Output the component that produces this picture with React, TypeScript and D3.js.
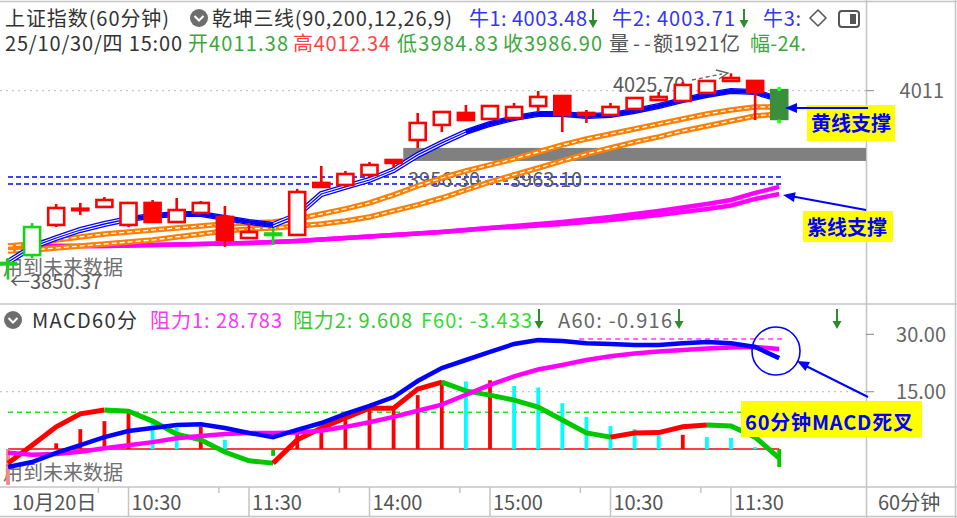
import React from "react";
import * as d3 from "d3";

// ---------- data ----------
const openP = [3864.5, 3871.2, 3896.8, 3909.5, 3912.1, 3896.8, 3915.5, 3899.3, 3907.0, 3903.6, 3885.7, 3889.5, 3888.3, 3932.5, 3930.8, 3939.3, 3952.0, 3969.0, 3981.8, 3992.0, 3986.9, 3987.7, 3997.9, 4006.4, 3990.3, 3990.3, 3995.4, 4003.0, 4002.2, 4009.0, 4019.2, 4019.2, 4011.38];
const highP = [3868.7, 3898.4, 3914.6, 3915.5, 3920.5, 3916.3, 3918.0, 3919.7, 3917.2, 3912.9, 3898.5, 3894.2, 3927.4, 3946.9, 3942.7, 3950.3, 3952.0, 3992.0, 3992.8, 3998.8, 3997.9, 4000.5, 4010.7, 4006.4, 3994.5, 4000.5, 4004.7, 4009.8, 4018.3, 4019.2, 4025.7, 4019.2, 4012.34];
const lowP = [3850.37, 3868.7, 3895.0, 3905.3, 3912.1, 3895.0, 3898.5, 3899.3, 3907.0, 3878.1, 3885.7, 3879.8, 3888.3, 3929.1, 3929.1, 3937.6, 3945.2, 3962.2, 3975.8, 3986.0, 3986.9, 3987.7, 3992.8, 3975.8, 3983.5, 3990.3, 3995.4, 4003.0, 4002.2, 4009.0, 4019.2, 3986.0, 3984.83];
const closeP = [3863.6, 3895.0, 3911.2, 3910.6, 3918.0, 3915.5, 3899.3, 3909.5, 3915.5, 3884.0, 3890.8, 3889.0, 3924.8, 3929.1, 3940.1, 3947.8, 3949.5, 3983.5, 3992.8, 3986.0, 3997.9, 3997.1, 4005.6, 3990.3, 3992.0, 3997.1, 4004.7, 4005.6, 4015.8, 4019.2, 4021.7, 4009.8, 3986.9];
const candleTone = ["g", "g", "r", "r", "r", "r", "r", "r", "r", "r", "r", "g", "r", "r", "r", "r", "r", "r", "r", "r", "r", "r", "r", "r", "r", "r", "r", "r", "r", "r", "r", "r", "d"];

// 乾坤三线 lines
const bullLine = [3865.3, 3878.1, 3885.7, 3892.5, 3897.6, 3901.9, 3904.4, 3906.1, 3906.1, 3902.7, 3899.3, 3896.8, 3905.3, 3923.1, 3929.1, 3935.0, 3943.5, 3956.3, 3966.5, 3975.8, 3982.6, 3987.7, 3991.1, 3991.1, 3989.4, 3990.3, 3993.7, 3997.9, 4003.0, 4007.3, 4010.7, 4009.8, 4003.5];
const yellowFast = [3878.9, 3880.6, 3884.0, 3886.6, 3889.1, 3890.8, 3892.5, 3894.2, 3895.9, 3897.6, 3898.5, 3899.3, 3901.9, 3906.1, 3910.4, 3915.5, 3922.3, 3929.9, 3936.7, 3942.7, 3947.8, 3952.9, 3958.8, 3964.8, 3969.9, 3974.1, 3978.4, 3982.6, 3986.9, 3991.1, 3994.5, 3997.1, 3997.1];
const yellowSlow = [3874.7, 3875.5, 3877.2, 3878.9, 3880.6, 3882.3, 3884.0, 3886.6, 3889.1, 3891.7, 3893.4, 3894.2, 3895.9, 3897.6, 3900.2, 3903.6, 3908.7, 3913.8, 3919.7, 3926.5, 3933.3, 3939.3, 3945.2, 3951.2, 3957.1, 3962.2, 3967.3, 3971.6, 3976.7, 3980.9, 3985.2, 3989.4, 3991.1];
const purpleUpper = [3878.9, 3878.9, 3878.9, 3878.9, 3878.9, 3879.3, 3879.8, 3880.2, 3880.6, 3881.0, 3881.5, 3882.3, 3883.2, 3884.5, 3885.7, 3887.0, 3888.3, 3889.5, 3890.8, 3892.5, 3894.2, 3895.9, 3897.6, 3899.3, 3901.4, 3903.6, 3906.1, 3908.7, 3911.6, 3914.6, 3918.0, 3924.0, 3929.1];
const purpleLower = [3878.9, 3878.9, 3878.9, 3878.9, 3878.9, 3879.3, 3879.8, 3880.2, 3880.6, 3881.0, 3881.5, 3882.3, 3883.2, 3884.5, 3885.7, 3887.0, 3888.3, 3889.5, 3890.8, 3892.5, 3894.2, 3895.1, 3896.3, 3897.6, 3899.3, 3901.0, 3903.1, 3905.3, 3907.8, 3910.4, 3913.3, 3918.9, 3923.1];
const bullThickRanges = [[5, 11], [19, 32]];
const supportLines = [3937.6, 3931.6];
const grayBand = [3951.2, 3962.3];
const grayBandStart = 16.4;
const priceGrid = [4011];
const lowMark = 3850.37;
const highMark = 4025.7;

// MACD
const dif = [-4.7, -3.4, -1.0, 1.0, 3.1, 4.7, 5.5, 6.3, 6.5, 5.5, 4.2, 3.1, 5.0, 6.8, 9.2, 11.3, 13.6, 17.8, 21.2, 23.3, 25.4, 27.5, 28.5, 28.3, 27.7, 27.5, 27.2, 27.2, 27.7, 28.0, 27.7, 26.7, 23.8];
const dea = [-1.0, -1.5, -1.3, -0.7, 0.2, 1.0, 1.8, 2.8, 3.4, 3.9, 4.2, 4.2, 4.3, 4.8, 5.8, 7.0, 8.4, 10.0, 11.6, 14.2, 16.8, 19.0, 20.8, 22.0, 23.3, 24.3, 25.0, 25.5, 25.9, 26.3, 26.6, 26.7, 26.2];
const macdBars = [-9.4, 0, 1.5, 5.2, 7.3, 9.4, 6.8, 5.5, 5.8, 2.4, 0, -1.8, 4.2, 5.0, 7.6, 10.7, 11.0, 14.1, 17.9, 17.7, 18.0, 16.5, 16.1, 12.0, 8.4, 6.0, 5.2, 3.6, 3.7, 3.1, 2.9, 0.5, -4.7];
const trendLine = [-3.7, 1.0, 5.8, 9.2, 10.2, 9.9, 7.3, 3.9, 2.4, -0.8, -3.1, -3.7, 2.4, 5.5, 8.1, 10.7, 10.7, 15.7, 17.5, 15.2, 14.1, 12.8, 11.0, 7.6, 4.2, 3.1, 4.2, 4.3, 5.8, 6.3, 6.0, 3.1, -2.4];
const resist1 = 28.783;
const resist2 = 9.608;
const resist1Start = 23.7;
const macdTicks = [15, 30];

// time axis
const timeLabels = ["10月20日", "10:30", "11:30", "14:00", "15:00", "10:30", "11:30"];
const timeLabelIdx = [0, 5, 10, 15, 20, 25, 30];
const minorTickIdx = [3.75, 8.75, 13.75, 18.75, 23.75, 28.75];

const FONT = "'Noto Sans CJK SC', 'Noto Sans', sans-serif";
const RED = "#ff0000";
const CYAN = "#00ffff";
const GREEN = "#00c800";
const BLUE = "#0000ff";
const MAG = "#ff00ff";
const ORANGE = "#ff8000";
const FRAME = "#c4c4c4";

function head(tx: number, ty: number, fx: number, fy: number, len = 12, half = 5) {
  const a = Math.atan2(ty - fy, tx - fx);
  const bx = tx - len * Math.cos(a), by = ty - len * Math.sin(a);
  const px = -Math.sin(a) * half, py = Math.cos(a) * half;
  return `${tx},${ty} ${bx + px},${by + py} ${bx - px},${by - py}`;
}

function DownArrow({ x, y0, y1 }: { x: number; y0: number; y1: number }) {
  return (
    <g>
      <line x1={x} x2={x} y1={y0} y2={y1 - 4} stroke="#2e8b2e" strokeWidth={2} />
      <polygon points={`${x - 4.5},${y1 - 8} ${x + 4.5},${y1 - 8} ${x},${y1}`} fill="#2e8b2e" />
    </g>
  );
}

function Chevron({ cx, cy }: { cx: number; cy: number }) {
  return (
    <g>
      <circle cx={cx} cy={cy} r={9} fill="#6e6e6e" />
      <path d={`M${cx - 4.5},${cy - 2} L${cx},${cy + 2.5} L${cx + 4.5},${cy - 2}`} stroke="#fff" strokeWidth={2} fill="none" />
    </g>
  );
}

function T({ x, y, fill, len, children }: { x: number; y: number; fill: string; len?: number; children: React.ReactNode }) {
  return (
    <text x={x} y={y} fill={fill} textLength={len} lengthAdjust="spacing">
      {children}
    </text>
  );
}

export default function App() {
  const n = closeP.length;
  const idx = d3.range(n);
  const x = d3.scaleLinear().domain([0, n - 1]).range([8, 779.2]);
  const yP = d3.scaleLinear().domain([3833, 4037]).range([300, 60]);
  const yM = d3.scaleLinear().domain([0, 30]).range([449, 334.4]);

  const lineOf = (arr: number[], y: (v: number) => number) =>
    d3.line<number>().x((i) => x(i)).y((i) => y(arr[i]));

  const bullPath = lineOf(bullLine, yP)(idx) as string;
  const bullThick = bullThickRanges.map(([a, b]) => lineOf(bullLine, yP)(d3.range(a, b + 1)) as string);
  const yF = lineOf(yellowFast, yP)(idx) as string;
  const yS = lineOf(yellowSlow, yP)(idx) as string;
  const pU = lineOf(purpleUpper, yP)(idx) as string;
  const pL = lineOf(purpleLower, yP)(idx) as string;
  const difPath = lineOf(dif, yM)(idx) as string;
  const deaPath = lineOf(dea, yM)(idx) as string;

  const runs: { color: string; ids: number[] }[] = [];
  for (let i = 1; i < n; i++) {
    const c = trendLine[i] >= trendLine[i - 1] ? RED : GREEN;
    const last = runs[runs.length - 1];
    if (last && last.color === c) last.ids.push(i);
    else runs.push({ color: c, ids: [i - 1, i] });
  }

  const barColor = (i: number) => {
    const v = macdBars[i];
    if (v < 0) return i === 0 ? "#f28a8a" : GREEN;
    return i > 0 && v < macdBars[i - 1] ? CYAN : RED;
  };

  const toneColor = (t: string) => (t === "g" ? "#17d317" : t === "d" ? "#3b8e3b" : RED);
  const bodyW = 16;

  return (
    <svg width={957} height={518} style={{ position: "absolute", left: 0, top: 0, background: "#fff" }} fontFamily={FONT}>
      <rect x={0} y={0} width={957} height={518} fill="#fff" />
      {/* frame */}
      <line x1={0} x2={957} y1={1.5} y2={1.5} stroke={FRAME} strokeWidth={1.5} />
      <line x1={0} x2={957} y1={304} y2={304} stroke={FRAME} strokeWidth={1.5} />
      <line x1={0} x2={957} y1={487} y2={487} stroke={FRAME} strokeWidth={1.5} />
      <line x1={0} x2={957} y1={516.5} y2={516.5} stroke={FRAME} strokeWidth={1.5} />
      <line x1={866.5} x2={866.5} y1={0} y2={518} stroke={FRAME} strokeWidth={1.5} />
      <line x1={955.5} x2={955.5} y1={0} y2={518} stroke={FRAME} strokeWidth={1.5} />

      {/* header row 1 */}
      <g fontSize={20}>
        <T x={5} y={26} fill="#333" len={164}>上证指数(60分钟)</T>
        <Chevron cx={199} cy={18} />
        <T x={212} y={26} fill="#333" len={240}>乾坤三线(90,200,12,26,9)</T>
        <T x={469} y={26} fill="#3535f5" len={118}>牛1: 4003.48</T>
        <DownArrow x={593} y0={9} y1={28} />
        <T x={612} y={26} fill="#3535f5" len={123}>牛2: 4003.71</T>
        <DownArrow x={744} y0={9} y1={28} />
        <T x={763} y={26} fill="#3535f5" len={38}>牛3:</T>
        <polygon points="818,10 826,18 818,26 810,18" fill="none" stroke="#555" strokeWidth={1.5} />
        <rect x={839} y={11} width={20} height={16} rx={3} fill="none" stroke="#555" strokeWidth={2} />
        <rect x={850} y={14} width={6} height={10} fill="#555" />
      </g>
      {/* header row 2 */}
      <g fontSize={20}>
        <T x={5} y={51} fill="#333" len={177}>25/10/30/四 15:00</T>
        <T x={188} y={51} fill="#3ca83c" len={100}>开4011.38</T>
        <T x={293} y={51} fill="#ff4444" len={97}>高4012.34</T>
        <T x={397} y={51} fill="#3ca83c" len={101}>低3984.83</T>
        <T x={503} y={51} fill="#3ca83c" len={99}>收3986.90</T>
        <T x={609} y={51} fill="#555" len={42}>量--</T>
        <T x={653} y={51} fill="#555" len={87}>额1921亿</T>
        <T x={750} y={51} fill="#3ca83c" len={56}>幅-24.</T>
      </g>

      {/* main grid */}
      {priceGrid.map((p) => (
        <g key={p}>
          <line x1={0} x2={866} y1={yP(p)} y2={yP(p)} stroke="#c8c8c8" strokeWidth={1.2} strokeDasharray="2 4" />
          <line x1={866} x2={874} y1={yP(p)} y2={yP(p)} stroke="#999" strokeWidth={1.2} />
          <text x={944} y={yP(p) + 7.5} fontSize={20} fill="#666" textAnchor="end">{p}</text>
        </g>
      ))}
      <rect x={x(grayBandStart)} y={yP(grayBand[1])} width={866 - x(grayBandStart)} height={yP(grayBand[0]) - yP(grayBand[1])} fill="#808080" />
      {supportLines.map((p) => (
        <line key={p} x1={x(0)} x2={x(n - 1) + 2} y1={yP(p)} y2={yP(p)} stroke={BLUE} strokeWidth={1.5} strokeDasharray="5 3" />
      ))}

      {/* main labels (under lines) */}
      <g fontSize={20} fill="#5a5a5a">
        <text x={3} y={275} fill="#707070">用到未来数据</text>
        <text x={10} y={289}>{"←" + lowMark.toFixed(2)}</text>
        <text x={408} y={187}>3956.30</text>
        <text x={510} y={187}>3963.10</text>
        <text x={613} y={92}>{highMark.toFixed(2)}</text>
      </g>
      <line x1={476} x2={508} y1={181} y2={181} stroke="#5a5a5a" strokeWidth={1.5} strokeDasharray="5 4" />
      <line x1={692} x2={722} y1={80} y2={74} stroke="#666" strokeWidth={1.3} strokeDasharray="4 3" />
      <path d="M716,70 L728,73 L719,79" stroke="#666" strokeWidth={1.3} fill="none" />

      {/* purple lines */}
      <path d={pL} stroke={MAG} strokeWidth={4.5} fill="none" />
      <path d={pU} stroke={MAG} strokeWidth={4.5} fill="none" />
      {/* yellow (orange) lines */}
      <path d={yS} stroke={ORANGE} strokeWidth={5.5} fill="none" />
      <path d={yF} stroke={ORANGE} strokeWidth={5.5} fill="none" />
      <path d={yS} stroke="#fff" strokeWidth={1.3} strokeDasharray="5 3" fill="none" />
      <path d={yF} stroke="#fff" strokeWidth={1.3} strokeDasharray="5 3" fill="none" />
      {/* bull blue triple line */}
      <path d={bullPath} stroke={BLUE} strokeWidth={6} fill="none" />
      <path d={bullPath} stroke="#fff" strokeWidth={3.4} fill="none" />
      <path d={bullPath} stroke={BLUE} strokeWidth={1.3} fill="none" />
      {bullThick.map((d, k) => (
        <path key={k} d={d} stroke={BLUE} strokeWidth={4} fill="none" />
      ))}

      {/* candles */}
      {idx.map((i) => {
        const o = openP[i], c = closeP[i], h = highP[i], l = lowP[i];
        const col = toneColor(candleTone[i]);
        const up = c >= o;
        const top = yP(Math.max(o, c)), bot = yP(Math.min(o, c));
        const cx = x(i);
        return (
          <g key={i}>
            <line x1={cx} x2={cx} y1={yP(h)} y2={top} stroke={col} strokeWidth={2.6} />
            <line x1={cx} x2={cx} y1={bot} y2={yP(l)} stroke={col} strokeWidth={2.6} />
            <rect x={cx - bodyW / 2} y={top} width={bodyW} height={Math.max(1.5, bot - top)} fill={up ? "#fff" : col} stroke={col} strokeWidth={2.6} />
            {candleTone[i] === "d" && (
              <g>
                <circle cx={cx} cy={yP(h)} r={2.2} fill="#22ff22" />
                <circle cx={cx} cy={yP(l)} r={2.2} fill="#22ff22" />
              </g>
            )}
          </g>
        );
      })}

      {/* annotations main */}
      <rect x={807} y={105} width={88} height={36} fill="#ffff00" />
      <text x={811} y={131} fontSize={20} fontWeight="bold" fill={BLUE}>黄线支撑</text>
      <line x1={868} x2={795} y1={108} y2={108} stroke={BLUE} strokeWidth={2} />
      <polygon points={head(785, 108, 868, 108)} fill={BLUE} />
      <rect x={803} y={211} width={90} height={31} fill="#ffff00" />
      <text x={807} y={235} fontSize={20} fontWeight="bold" fill={BLUE}>紫线支撑</text>
      <line x1={866} x2={793} y1={210} y2={196.5} stroke={BLUE} strokeWidth={2} />
      <polygon points={head(783, 195, 866, 210)} fill={BLUE} />

      {/* MACD panel header */}
      <g fontSize={20}>
        <Chevron cx={13} cy={320} />
        <T x={32} y={328} fill="#333" len={105}>MACD60分</T>
        <T x={150} y={328} fill="#ff33ff" len={132}>阻力1: 28.783</T>
        <T x={293} y={328} fill="#33cc33" len={119}>阻力2: 9.608</T>
        <T x={421} y={328} fill="#2ee02e" len={111}>F60: -3.433</T>
        <DownArrow x={539} y0={309} y1={329} />
        <T x={558} y={328} fill="#666" len={114}>A60: -0.916</T>
        <DownArrow x={679} y0={309} y1={329} />
        <DownArrow x={837} y0={309} y1={329} />
      </g>

      {/* MACD grid & axis */}
      <line x1={0} x2={866} y1={yM(15)} y2={yM(15)} stroke="#c8c8c8" strokeWidth={1.2} strokeDasharray="2 4" />
      {macdTicks.map((t) => (
        <g key={t}>
          <line x1={866} x2={874} y1={yM(t)} y2={yM(t)} stroke="#999" strokeWidth={1.2} />
          <text x={946} y={yM(t) + 7.5} fontSize={20} fill="#666" textAnchor="end">{t.toFixed(2)}</text>
        </g>
      ))}
      <line x1={x(0)} x2={x(n - 1) + 3} y1={yM(resist2)} y2={yM(resist2)} stroke="#22dd22" strokeWidth={1.5} strokeDasharray="5 4" />
      <line x1={x(resist1Start)} x2={x(n - 1) + 3} y1={yM(resist1)} y2={yM(resist1)} stroke="#ff33ff" strokeWidth={1.5} strokeDasharray="5 4" />
      <text x={3} y={480} fontSize={20} fill="#707070">用到未来数据</text>
      <line x1={x(0)} x2={x(n - 1)} y1={yM(0)} y2={yM(0)} stroke={RED} strokeWidth={1.6} />
      {idx.map((i) =>
        macdBars[i] === 0 ? null : (
          <line key={i} x1={x(i)} x2={x(i)} y1={yM(0)} y2={yM(macdBars[i])} stroke={barColor(i)} strokeWidth={3.8} />
        )
      )}
      {runs.map((r, k) => (
        <path key={k} d={lineOf(trendLine, yM)(r.ids) as string} stroke={r.color} strokeWidth={5} fill="none" />
      ))}
      <path d={deaPath} stroke={MAG} strokeWidth={4.5} fill="none" />
      <path d={difPath} stroke={BLUE} strokeWidth={4.5} fill="none" />

      {/* MACD annotations */}
      <circle cx={776} cy={351} r={24} fill="none" stroke={BLUE} strokeWidth={1.6} />
      <rect x={741} y={401} width={181} height={36} fill="#ffff00" />
      <text x={745} y={430} fontSize={20} fontWeight="bold" fill={BLUE} textLength={168} lengthAdjust="spacing">60分钟MACD死叉</text>
      <line x1={868} x2={806} y1={397} y2={366} stroke={BLUE} strokeWidth={2} />
      <polygon points={head(797, 361, 868, 397)} fill={BLUE} />

      {/* time axis */}
      {timeLabelIdx.map((ti, k) => (
        <g key={k}>
          {ti > 0 && <line x1={x(ti)} x2={x(ti)} y1={487} y2={517} stroke={FRAME} strokeWidth={1.5} />}
          <text x={x(ti) + (ti === 0 ? 4 : 3)} y={510} fontSize={20} fill="#555">{timeLabels[k]}</text>
        </g>
      ))}
      {minorTickIdx.map((ti) => (
        <line key={ti} x1={x(ti)} x2={x(ti)} y1={487} y2={493} stroke={FRAME} strokeWidth={1.5} />
      ))}
      <text x={878} y={510} fontSize={20} fill="#555">60分钟</text>
    </svg>
  );
}
